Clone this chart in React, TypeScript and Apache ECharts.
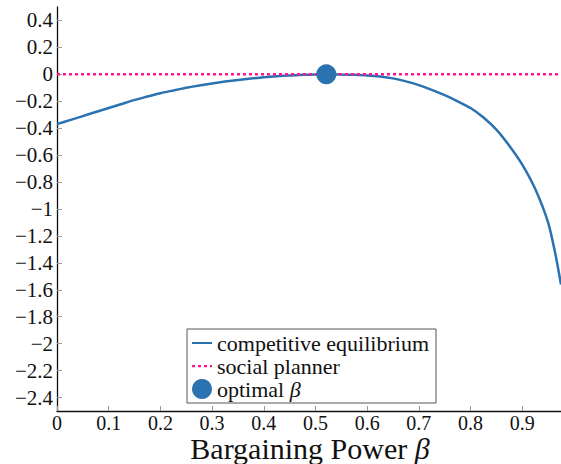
import React, { useEffect, useRef } from "react";
import * as echarts from "echarts";

const betaValues = [0, 0.025, 0.05, 0.075, 0.1, 0.125, 0.15, 0.175, 0.2, 0.225, 0.25, 0.275, 0.3, 0.325, 0.35, 0.375, 0.4, 0.425, 0.45, 0.475, 0.5, 0.525, 0.55, 0.575, 0.6, 0.625, 0.65, 0.675, 0.7, 0.725, 0.75, 0.775, 0.8, 0.825, 0.85, 0.875, 0.9, 0.925, 0.95, 0.965, 0.975];
const welfareValues = [-0.37, -0.34, -0.31, -0.28, -0.25, -0.22, -0.19, -0.165, -0.14, -0.12, -0.1, -0.083, -0.068, -0.054, -0.042, -0.031, -0.022, -0.014, -0.008, -0.004, -0.001, 0, -0.002, -0.004, -0.008, -0.016, -0.03, -0.052, -0.08, -0.115, -0.155, -0.2, -0.25, -0.32, -0.41, -0.53, -0.67, -0.85, -1.1, -1.35, -1.56];
const plannerBeta = [0, 0.975];
const plannerValues = [0, 0];
const optimalBeta = [0.521];
const optimalValue = [0];
const xTicks = [0, 0.1, 0.2, 0.3, 0.4, 0.5, 0.6, 0.7, 0.8, 0.9];
const yTicks = [-2.4, -2.2, -2, -1.8, -1.6, -1.4, -1.2, -1, -0.8, -0.6, -0.4, -0.2, 0, 0.2, 0.4];
const seriesNames = ["competitive equilibrium", "social planner", "optimal β"];
const xTitle = "Bargaining Power {i|β}";

const BLUE = "#2a72b0";
const PINK = "#ff1493";
const FONT = "Liberation Serif";

const fmt = (v: number) => {
  const r = Number(v.toFixed(1));
  if (r === 0) return "0";
  return String(r).replace("-", "\u2212");
};

export default function App() {
  const ref = useRef<HTMLDivElement>(null);
  useEffect(() => {
    if (!ref.current) return;
    const chart = echarts.init(ref.current, undefined, { renderer: "svg" });
    chart.setOption({
      animation: false,
      backgroundColor: "#ffffff",
      grid: { left: 57, right: 0, top: 7, bottom: 53, containLabel: false, outerBoundsMode: "none" },
      graphic: [
        {
          type: "text",
          x: 310,
          y: 448,
          style: {
            text: xTitle,
            textAlign: "center",
            textVerticalAlign: "middle",
            fontFamily: FONT,
            fontSize: 30,
            lineHeight: 20,
            fill: "#111",
            rich: { i: { fontFamily: FONT, fontSize: 30, lineHeight: 20, fontStyle: "italic", fill: "#111", color: "#111" } },
          },
        },
      ],
      legend: {
        orient: "vertical",
        left: 187,
        top: 329,
        itemWidth: 20,
        itemHeight: 20,
        itemGap: 1,
        padding: [3, 7, 3, 5],
        borderColor: "#555",
        borderWidth: 1,
        borderRadius: 0,
        textStyle: {
          fontFamily: FONT,
          fontSize: 22,
          lineHeight: 20,
          color: "#111",
          rich: { i: { fontFamily: FONT, fontSize: 22, lineHeight: 20, fontStyle: "italic", color: "#111" } },
        },
        formatter: (name: string) => name.replace("β", "{i|β}"),
        data: [
          { name: seriesNames[0], icon: "path://M0,9 L20,9 L20,11 L0,11 Z", itemStyle: { color: BLUE } },
          {
            name: seriesNames[1],
            icon: "path://M0,9h3v2.2h-3z M6,9h3v2.2h-3z M12,9h3v2.2h-3z M18,9h2v2.2h-2z M0,0h0.01v0.01h-0.01z M0,20h0.01v0.01h-0.01z",
            itemStyle: { color: PINK },
          },
          { name: seriesNames[2], icon: "circle" },
        ],
      },
      xAxis: {
        type: "value",
        min: 0,
        max: 0.975,
        interval: 0.1,
        axisLine: { show: true, onZero: false, lineStyle: { color: "#111", width: 1.3 } },
        axisTick: { show: true, inside: true, length: 5, lineStyle: { color: "#999" }, customValues: xTicks },
        axisLabel: { fontFamily: FONT, fontSize: 20, lineHeight: 18, color: "#111", margin: 3, formatter: fmt, customValues: xTicks },
        splitLine: { show: false },
      },
      yAxis: {
        type: "value",
        min: -2.5,
        max: 0.5,
        axisLine: { show: true, onZero: false, lineStyle: { color: "#111", width: 1.3 } },
        axisTick: { show: true, inside: true, length: 5, lineStyle: { color: "#999" }, customValues: yTicks },
        axisLabel: { fontFamily: FONT, fontSize: 21, color: "#111", margin: 4, formatter: fmt, customValues: yTicks },
        splitLine: { show: false },
      },
      series: [
        {
          name: seriesNames[0],
          type: "line",
          data: betaValues.map((b, i) => [b, welfareValues[i]]),
          smooth: 0.2,
          showSymbol: false,
          symbol: "none",
          lineStyle: { color: BLUE, width: 2.5 },
          itemStyle: { color: BLUE },
          z: 2,
        },
        {
          name: seriesNames[1],
          type: "line",
          data: plannerBeta.map((b, i) => [b, plannerValues[i]]),
          showSymbol: false,
          symbol: "none",
          lineStyle: { color: PINK, width: 2.5, type: [3, 3] },
          itemStyle: { color: PINK },
          z: 3,
        },
        {
          name: seriesNames[2],
          type: "scatter",
          data: optimalBeta.map((b, i) => [b, optimalValue[i]]),
          symbolSize: 20,
          itemStyle: { color: BLUE, opacity: 1 },
          z: 4,
        },
      ],
    });
    return () => chart.dispose();
  }, []);
  return <div ref={ref} style={{ position: "absolute", left: 0, top: 0, width: 561, height: 464 }} />;
}
